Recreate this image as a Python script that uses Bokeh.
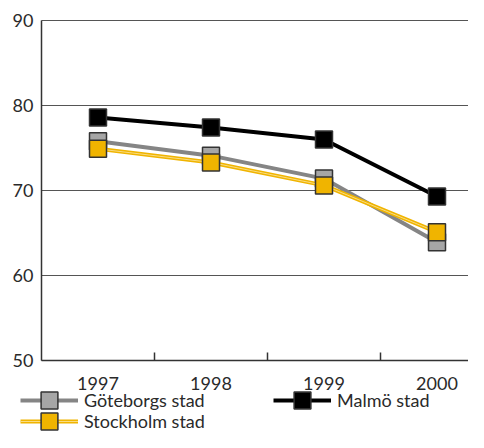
from bokeh.plotting import figure
from bokeh.models import FixedTicker, Range1d, Legend, LegendItem
from bokeh.embed import file_html
from bokeh.resources import INLINE

years = [1997, 1998, 1999, 2000]
year_labels = ["1997", "1998", "1999", "2000"]
goteborg = [75.8, 74.1, 71.4, 63.9]
malmo = [78.6, 77.4, 76.0, 69.3]
stockholm = [74.9, 73.3, 70.6, 65.1]
y_ticks = [50, 60, 70, 80, 90]

FONT = "Lato"
TXT = "#2a2a2a"
W, H = 468, 432
# layout (pixels): frame corner of the data area
X0_PX, PX_PER_YEAR = 41, 113.0
Y_TOP_PX, PX_PER_UNIT = 20, 8.5
x_lo = years[0] - 0.5
x_start = x_lo - X0_PX / PX_PER_YEAR
x_end = x_lo + (W - X0_PX) / PX_PER_YEAR
y_hi = y_ticks[-1]
y_end = y_hi + Y_TOP_PX / PX_PER_UNIT
y_start = y_hi - (H - Y_TOP_PX) / PX_PER_UNIT

p = figure(width=W, height=H, output_backend="svg", toolbar_location=None,
           x_range=Range1d(x_start, x_end), y_range=Range1d(y_start, y_end),
           min_border_left=0, min_border_right=0, min_border_top=0, min_border_bottom=0)
p.outline_line_color = None

# x axis, placed at y = 50
xa = p.xaxis[0]
xa.fixed_location = y_ticks[0]
xa.bounds = (x_lo, x_end)
xa.ticker = FixedTicker(ticks=years, minor_ticks=[y + 0.5 for y in years[:-1]])
xa.major_label_overrides = {y: l for y, l in zip(years, year_labels)}
xa.major_tick_in = 0
xa.major_tick_out = 0
xa.minor_tick_in = 8
xa.minor_tick_out = 0
xa.minor_tick_line_color = "#333333"
xa.minor_tick_line_width = 1.5
xa.axis_line_color = "#333333"
xa.axis_line_width = 1.5
xa.major_label_text_font = FONT
xa.major_label_text_font_size = "18px"
xa.major_label_text_color = TXT
xa.major_label_standoff = 16

ya = p.yaxis[0]
ya.fixed_location = x_lo
ya.bounds = (y_ticks[0], y_ticks[-1])
ya.ticker = FixedTicker(ticks=y_ticks, minor_ticks=[])
ya.major_tick_in = 0
ya.major_tick_out = 0
ya.axis_line_color = "#333333"
ya.axis_line_width = 1.5
ya.major_label_text_font = FONT
ya.major_label_text_font_size = "18px"
ya.major_label_text_color = TXT
ya.major_label_standoff = 8

p.xgrid.grid_line_color = None
p.ygrid.ticker = FixedTicker(ticks=y_ticks)
p.ygrid.cross_bounds = (x_lo, x_end)
p.ygrid.grid_line_color = "#555555"
p.ygrid.grid_line_width = 1

# series
g_line = p.line(years, goteborg, line_color="#858585", line_width=4)
g_mark = p.scatter(years, goteborg, marker="square", size=17, fill_color="#a6a6a6",
                   line_color="#333333", line_width=1.5)
s_line = p.line(years, stockholm, line_color="#f0b400", line_width=4)
s_line2 = p.line(years, stockholm, line_color="#f9dc84", line_width=1)
s_mark = p.scatter(years, stockholm, marker="square", size=17, fill_color="#f0b400",
                   line_color="#333333", line_width=1.5)
m_line = p.line(years, malmo, line_color="black", line_width=4)
m_mark = p.scatter(years, malmo, marker="square", size=17, fill_color="black",
                   line_color="#333333", line_width=1.5)

legend_style = dict(orientation="horizontal", glyph_width=58, glyph_height=42,
                    label_height=20, label_width=189, spacing=0, padding=0, margin=0,
                    label_standoff=6, label_text_font=FONT, label_text_font_size="18px",
                    label_text_color=TXT, background_fill_alpha=0, border_line_color=None)
legend1 = Legend(items=[
    LegendItem(label="Göteborgs stad", renderers=[g_line, g_mark]),
    LegendItem(label="Malmö stad", renderers=[m_line, m_mark]),
], location=(20, 11), **legend_style)
legend2 = Legend(items=[
    LegendItem(label="Stockholm stad", renderers=[s_line, s_line2, s_mark]),
], location=(20, -10), **legend_style)
p.add_layout(legend1, "center")
p.add_layout(legend2, "center")

open("out.html", "w").write(file_html(p, INLINE))
